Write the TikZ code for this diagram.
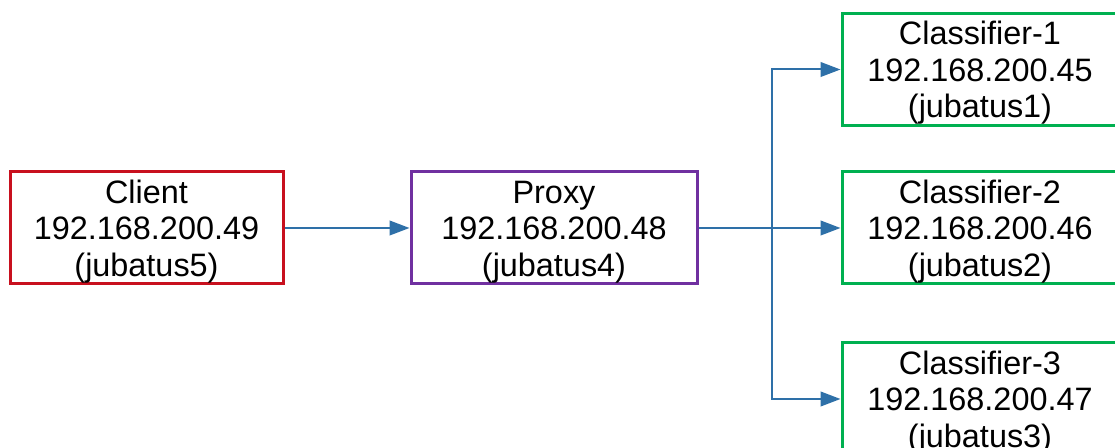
\documentclass[tikz,border=0pt]{standalone}
\usepackage{fontspec}
\setmainfont{Liberation Sans}
\usepackage{xcolor}
\usetikzlibrary{arrows.meta}
\definecolor{clientred}{RGB}{200,16,30}
\definecolor{proxypurple}{RGB}{112,48,160}
\definecolor{servergreen}{RGB}{0,176,80}
\definecolor{linkblue}{RGB}{46,112,168}
\newcommand{\hoststrut}{\rule{0pt}{23pt}}
\tikzset{
  hostbox/.style={draw, line width=2.25pt, minimum height=84pt, inner sep=0pt,
    align=center, font=\fontsize{24.3}{27.4}\selectfont},
  link/.style={draw=linkblue, line width=1.5pt, -{Triangle[length=15pt,width=11pt]}}
}
\begin{document}
\begin{tikzpicture}[x=0.75pt, y=-0.75pt]
\useasboundingbox (0,0) rectangle (1115,448);
\node[hostbox, draw=clientred, minimum width=204.75pt] (client) at (146.5,228) {\hoststrut Client\\192.168.200.49\\(jubatus5)};
\node[hostbox, draw=proxypurple, minimum width=214.5pt] (proxy) at (554,228) {\hoststrut Proxy\\192.168.200.48\\(jubatus4)};
\node[hostbox, draw=servergreen, minimum width=207pt] (cls1) at (980,69.5) {\hoststrut Classifier-1\\192.168.200.45\\(jubatus1)};
\node[hostbox, draw=servergreen, minimum width=207pt] (cls2) at (980,228) {\hoststrut Classifier-2\\192.168.200.46\\(jubatus2)};
\node[hostbox, draw=servergreen, minimum width=207pt] (cls3) at (980,399) {\hoststrut Classifier-3\\192.168.200.47\\(jubatus3)};
\coordinate (split) at (772,228);
\draw[link] (client.east) -- (proxy.west);
\draw[link] (proxy.east) -- (cls2.west);
\draw[link] (split) |- (cls1.west);
\draw[link] (split) |- (cls3.west);
\end{tikzpicture}
\end{document}
